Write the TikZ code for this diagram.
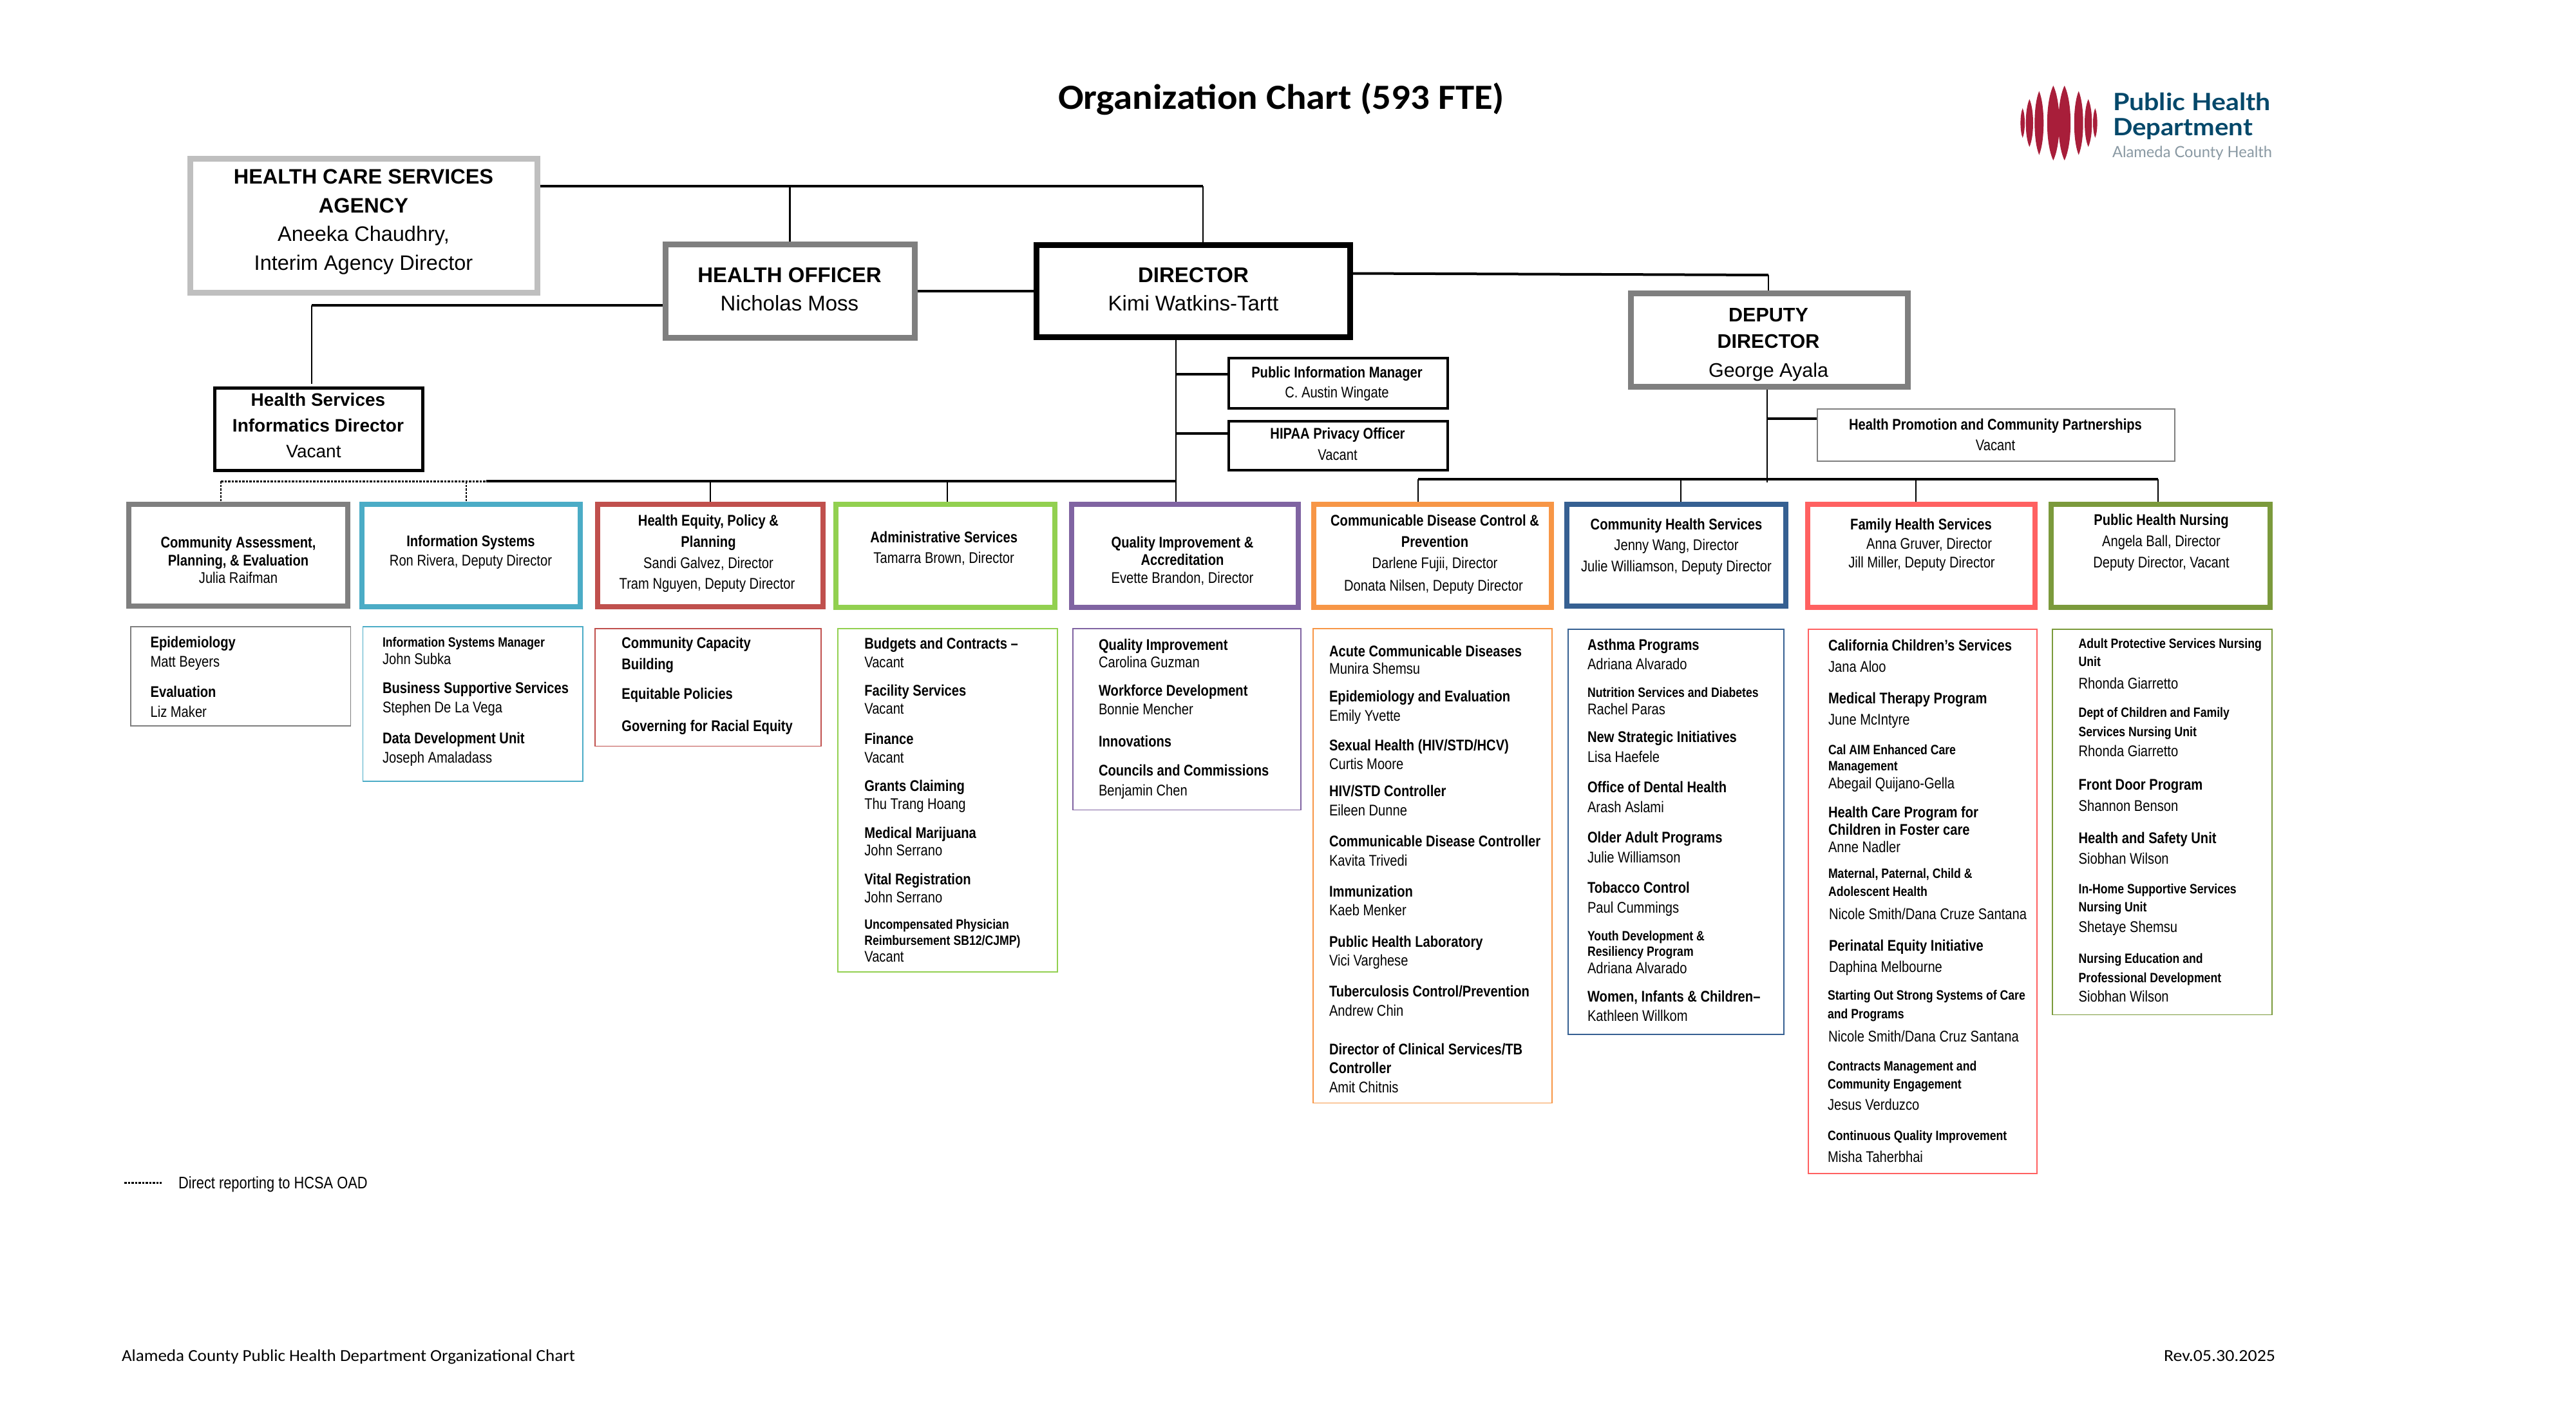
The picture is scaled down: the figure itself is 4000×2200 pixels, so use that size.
\documentclass[tikz,border=0pt]{standalone}
\usepackage{fontspec}
\usepackage{graphicx}
\setmainfont{Liberation Sans}
\newfontfamily\narfont[FakeStretch=.84]{Liberation Sans}
\newfontfamily\calfont{Carlito}
\newfontfamily\latofont{Lato}
\definecolor{cGrayA}{HTML}{BFBFBF}
\definecolor{cGray}{HTML}{7F7F7F}
\definecolor{cTeal}{HTML}{4BACC6}
\definecolor{cRed}{HTML}{C0504D}
\definecolor{cLime}{HTML}{92D050}
\definecolor{cPurple}{HTML}{8064A2}
\definecolor{cOrange}{HTML}{F79646}
\definecolor{cBlue}{HTML}{366092}
\definecolor{cCoral}{HTML}{FF6161}
\definecolor{cOlive}{HTML}{7B9A3C}
\definecolor{cLogoRed}{HTML}{A81E3A}
\definecolor{cLogoBlue}{HTML}{04486A}
\definecolor{cLogoGray}{HTML}{8A99A3}
\def\ox{0}\def\oy{0}
\newcommand\nb{\narfont\bfseries\fontsize{24}{24}\selectfont}
\newcommand\nr{\narfont\fontsize{24}{24}\selectfont}
\newcommand\ns{\narfont\bfseries\fontsize{21}{21}\selectfont}
\newcommand\rowAt[3]{\vtop to 0pt{\vskip\dimexpr#2pt-\oy pt\relax\hbox to\hsize{\kern\dimexpr#1pt-\ox pt\relax #3\hss}\vss}}
\newcommand\ctrF[4]{\rowAt{#1}{#2}{\smash{\makebox[0pt][c]{#3#4}}}}
\newcommand\ctrB[3]{\ctrF{#1}{#2}{\nb}{#3}}
\newcommand\ctrR[3]{\ctrF{#1}{#2}{\nr}{#3}}
\newcommand\lftF[4]{\rowAt{#1}{#2}{\smash{\makebox[0pt][l]{#3#4}}}}
\newcommand\lftB[3]{\lftF{#1}{#2}{\nb}{#3}}
\newcommand\lftR[3]{\lftF{#1}{#2}{\nr}{#3}}
\newcommand\lftS[3]{\lftF{#1}{#2}{\ns}{#3}}
\newcommand\OrgBox[7]{%
  \def\ox{#3}\def\oy{#4}%
  \node[#2] (#1) at ({(#3+#5)/2},{(#4+#6)/2})
    {\vbox to \dimexpr#6pt-#4pt\relax{\hsize=\dimexpr#5pt-#3pt\relax\offinterlineskip\parindent=0pt #7\vss}};}
\newcommand\Stripe[4]{%
  \fill[cLogoRed] (#1,#2-#4) .. controls (#1+1.33*#3,#2-0.55*#4) and (#1+1.33*#3,#2+0.55*#4) .. (#1,#2+#4)
     .. controls (#1-1.33*#3,#2+0.55*#4) and (#1-1.33*#3,#2-0.55*#4) .. cycle;}
\tikzset{
  x=1pt,y=-1pt,
  orgbox/.style={draw=#1,fill=white,inner sep=0pt,rectangle,anchor=center},
  topbox/.style={orgbox=#1,line width=9pt},
  deptbox/.style={orgbox=#1,line width=8pt},
  subbox/.style={orgbox=#1,line width=1.6pt},
  heavy/.style={draw=black,line width=4pt},
  light/.style={draw=black,line width=2.5pt},
  dotline/.style={draw=black,line width=3pt,dash pattern=on 3.5pt off 2pt},
  free/.style={inner sep=0pt,outer sep=0pt,anchor=base west},
}
\begin{document}
\begin{tikzpicture}
\useasboundingbox (0,0) rectangle (4000,2200);
\fill[white] (0,0) rectangle (4000,2200);
% title, footer, legend
\node[free] (title) at (1643,169) {\resizebox{693pt}{\height}{\calfont\bfseries\fontsize{55}{55}\selectfont Organization Chart (593 FTE)}};
\node[free] (footL) at (189,2113) {\resizebox{704pt}{\height}{\calfont\fontsize{26}{26}\selectfont Alameda County Public Health Department Organizational Chart}};
\node[free] (footR) at (3360,2113) {\resizebox{173pt}{\height}{\calfont\fontsize{26}{26}\selectfont Rev.05.30.2025}};
\node[free] (legend) at (277,1845) {\narfont\fontsize{26}{26}\selectfont Direct reporting to HCSA OAD};
\coordinate (legA) at (193,1836);
\coordinate (legB) at (251,1836);
\draw[dotline] (legA) -- (legB);
% logo
\foreach \d/\w/\h in {-8.7/9.5/58,8.7/9.5/58,-30.7/7/49.5,30.7/7/49.5,-45.7/5.7/37,45.7/5.7/37,-56.3/3.3/23,56.3/3.3/23}{\Stripe{3197+\d}{191}{\w}{\h}}
\node[free,text=cLogoBlue] (logoA) at (3281,171.7) {\resizebox{245pt}{\height}{\latofont\bfseries\fontsize{37}{37}\selectfont Public Health}};
\node[free,text=cLogoBlue] (logoB) at (3281,210) {\resizebox{217pt}{\height}{\latofont\bfseries\fontsize{37}{37}\selectfont Department}};
\node[free,text=cLogoGray] (logoC) at (3280,244) {\resizebox{248pt}{\height}{\latofont\fontsize{24}{24}\selectfont Alameda County Health}};
% leadership boxes
\OrgBox{hcsa}{topbox=cGrayA}{295}{246}{834}{454}{
  \ctrF{564.5}{285}{\bfseries\fontsize{32.5}{32.5}\selectfont}{HEALTH CARE SERVICES}
  \ctrF{564.5}{330}{\bfseries\fontsize{32.5}{32.5}\selectfont}{AGENCY}
  \ctrF{564.5}{374.5}{\fontsize{32.5}{32.5}\selectfont}{Aneeka Chaudhry,}
  \ctrF{564.5}{419}{\fontsize{32.5}{32.5}\selectfont}{Interim Agency Director}}
\OrgBox{ho}{topbox=cGray}{1033}{379}{1420}{524}{
  \ctrF{1226}{438}{\bfseries\fontsize{33}{33}\selectfont}{HEALTH OFFICER}
  \ctrF{1226}{482}{\fontsize{33}{33}\selectfont}{Nicholas Moss}}
\OrgBox{dir}{topbox=black}{1609}{380}{2096}{523}{
  \ctrF{1853}{438}{\bfseries\fontsize{33}{33}\selectfont}{DIRECTOR}
  \ctrF{1853}{482}{\fontsize{33}{33}\selectfont}{Kimi Watkins-Tartt}}
\OrgBox{dep}{topbox=cGray}{2532}{455}{2962}{600}{
  \ctrF{2746}{499.5}{\bfseries\fontsize{30.5}{30.5}\selectfont}{DEPUTY}
  \ctrF{2746}{540.6}{\bfseries\fontsize{30.5}{30.5}\selectfont}{DIRECTOR}
  \ctrF{2746}{585.7}{\fontsize{30.5}{30.5}\selectfont}{George Ayala}}
\OrgBox{hsi}{orgbox=black,line width=5pt}{333}{602}{656}{730}{
  \ctrF{494}{630}{\bfseries\fontsize{28}{28}\selectfont}{Health Services}
  \ctrF{494}{670.5}{\bfseries\fontsize{28}{28}\selectfont}{Informatics Director}
  \ctrF{487}{710.7}{\fontsize{28}{28}\selectfont}{Vacant}}
\OrgBox{pim}{orgbox=black,line width=4.5pt}{1908}{556}{2248}{634}{
  \ctrB{2076}{586.6}{Public Information Manager}
  \ctrR{2076}{617}{C. Austin Wingate}}
\OrgBox{hipaa}{orgbox=black,line width=4.5pt}{1908}{654}{2248}{730}{
  \ctrB{2077}{681.7}{HIPAA Privacy Officer}
  \ctrR{2077}{714}{Vacant}}
\OrgBox{hpcp}{subbox=cGray}{2822}{635}{3377}{716}{
  \ctrB{3098.5}{667}{Health Promotion and Community Partnerships}
  \ctrR{3098.5}{699.5}{Vacant}}
% department boxes
\OrgBox{comm}{deptbox=cGray}{200}{783}{540}{941}{
  \ctrB{370}{850.6}{Community Assessment,}
  \ctrB{370}{878}{Planning, \& Evaluation}
  \ctrR{370}{905.3}{Julia Raifman}}
\OrgBox{info}{deptbox=cTeal}{562}{783}{901}{942}{
  \ctrB{731}{848}{Information Systems}
  \ctrR{731}{878.5}{Ron Rivera, Deputy Director}}
\OrgBox{he}{deptbox=cRed}{928}{783}{1278}{942}{
  \ctrB{1100}{816}{Health Equity, Policy \&}
  \ctrB{1100}{849.6}{Planning}
  \ctrR{1100}{882}{Sandi Galvez, Director}
  \ctrR{1098}{914}{Tram Nguyen, Deputy Director}}
\OrgBox{adm}{deptbox=cLime}{1298}{783}{1638}{943}{
  \ctrB{1465.7}{842.7}{Administrative Services}
  \ctrR{1465.7}{874}{Tamarra Brown, Director}}
\OrgBox{qi}{deptbox=cPurple}{1664}{783}{2016}{943}{
  \ctrB{1836}{850}{Quality Improvement \&}
  \ctrB{1836}{877}{Accreditation}
  \ctrR{1836}{905}{Evette Brandon, Director}}
\OrgBox{cd}{deptbox=cOrange}{2040}{783}{2409}{943}{
  \ctrB{2228}{816}{Communicable Disease Control \&}
  \ctrB{2228}{849.4}{Prevention}
  \ctrR{2228}{882.5}{Darlene Fujii, Director}
  \ctrR{2226}{917}{Donata Nilsen, Deputy Director}}
\OrgBox{ch}{deptbox=cBlue}{2433}{783}{2773}{941}{
  \ctrB{2603}{822}{Community Health Services}
  \ctrR{2603}{854}{Jenny Wang, Director}
  \ctrR{2603}{887.5}{Julie Williamson, Deputy Director}}
\OrgBox{fh}{deptbox=cCoral}{2807}{783}{3160}{943}{
  \ctrB{2983}{822}{Family Health Services}
  \ctrR{2995.5}{852}{Anna Gruver, Director}
  \ctrR{2984}{881}{Jill Miller, Deputy Director}}
\OrgBox{ph}{deptbox=cOlive}{3185}{783}{3525}{943}{
  \ctrB{3356}{815}{Public Health Nursing}
  \ctrR{3356}{848}{Angela Ball, Director}
  \ctrR{3356}{881}{Deputy Director, Vacant}}
% unit lists
\OrgBox{commL}{subbox=cGray}{203}{973}{544.5}{1127}{
  \lftB{233.6}{1005}{Epidemiology}
  \lftR{233.6}{1035}{Matt Beyers}
  \lftB{233.6}{1082.4}{Evaluation}
  \lftR{233.6}{1113}{Liz Maker}}
\OrgBox{infoL}{subbox=cTeal}{563.6}{973}{905}{1213}{
  \lftS{594}{1004}{Information Systems Manager}
  \lftR{594}{1031}{John Subka}
  \lftB{594}{1076.5}{Business Supportive Services}
  \lftR{594}{1106.8}{Stephen De La Vega}
  \lftB{594}{1154}{Data Development Unit}
  \lftR{594}{1184}{Joseph Amaladass}}
\OrgBox{heL}{subbox=cRed}{924}{976}{1275}{1158.5}{
  \lftB{965.4}{1006}{Community Capacity}
  \lftB{965.4}{1039.6}{Building}
  \lftB{965.4}{1085}{Equitable Policies}
  \lftB{965.4}{1135.6}{Governing for Racial Equity}}
\OrgBox{admL}{subbox=cLime}{1301}{976}{1642}{1509}{
  \lftB{1342.3}{1007.8}{Budgets and Contracts –}
  \lftR{1342.3}{1036}{Vacant}
  \lftB{1342.3}{1080.4}{Facility Services}
  \lftR{1342.3}{1108.8}{Vacant}
  \lftB{1342.3}{1155.5}{Finance}
  \lftR{1342.3}{1184}{Vacant}
  \lftB{1342.3}{1228}{Grants Claiming}
  \lftR{1342.3}{1256.5}{Thu Trang Hoang}
  \lftB{1342.3}{1301}{Medical Marijuana}
  \lftR{1342.3}{1328.6}{John Serrano}
  \lftB{1342.3}{1373}{Vital Registration}
  \lftR{1342.3}{1401}{John Serrano}
  \lftS{1342.3}{1442.5}{Uncompensated Physician}
  \lftS{1342.3}{1467}{Reimbursement SB12/CJMP)}
  \lftR{1342.3}{1493.8}{Vacant}}
\OrgBox{qiL}{subbox=cPurple}{1666}{976}{2020}{1257.5}{
  \lftB{1706}{1009}{Quality Improvement}
  \lftR{1706}{1036}{Carolina Guzman}
  \lftB{1706}{1080}{Workforce Development}
  \lftR{1706}{1109}{Bonnie Mencher}
  \lftB{1706}{1159}{Innovations}
  \lftB{1706}{1204}{Councils and Commissions}
  \lftR{1706}{1235}{Benjamin Chen}}
\OrgBox{cdL}{subbox=cOrange}{2039}{976}{2410}{1712.5}{
  \lftB{2064}{1019}{Acute Communicable Diseases}
  \lftR{2064}{1046}{Munira Shemsu}
  \lftB{2064}{1089}{Epidemiology and Evaluation}
  \lftR{2064}{1119}{Emily Yvette}
  \lftB{2064}{1165.6}{Sexual Health (HIV/STD/HCV)}
  \lftR{2064}{1194}{Curtis Moore}
  \lftB{2064}{1236}{HIV/STD Controller}
  \lftR{2064}{1266}{Eileen Dunne}
  \lftB{2064}{1314}{Communicable Disease Controller}
  \lftR{2064}{1344}{Kavita Trivedi}
  \lftB{2064}{1392}{Immunization}
  \lftR{2064}{1421}{Kaeb Menker}
  \lftB{2064}{1470}{Public Health Laboratory}
  \lftR{2064}{1499}{Vici Varghese}
  \lftB{2064}{1547}{Tuberculosis Control/Prevention}
  \lftR{2064}{1577.5}{Andrew Chin}
  \lftB{2064}{1637}{Director of Clinical Services/TB}
  \lftB{2064}{1666}{Controller}
  \lftR{2064}{1696}{Amit Chitnis}}
\OrgBox{chL}{subbox=cBlue}{2435}{977}{2770}{1606}{
  \lftB{2465}{1009}{Asthma Programs}
  \lftR{2465}{1039}{Adriana Alvarado}
  \lftS{2465}{1082.5}{Nutrition Services and Diabetes}
  \lftR{2465}{1109}{Rachel Paras}
  \lftB{2465}{1152}{New Strategic Initiatives}
  \lftR{2465}{1183}{Lisa Haefele}
  \lftB{2465}{1230}{Office of Dental Health}
  \lftR{2465}{1261}{Arash Aslami}
  \lftB{2465}{1308}{Older Adult Programs}
  \lftR{2465}{1339}{Julie Williamson}
  \lftB{2465}{1386}{Tobacco Control}
  \lftR{2465}{1417}{Paul Cummings}
  \lftS{2465}{1460.6}{Youth Development \&}
  \lftS{2465}{1484}{Resiliency Program}
  \lftR{2465}{1511}{Adriana Alvarado}
  \lftB{2465}{1555}{Women, Infants \& Children–}
  \lftR{2465}{1585}{Kathleen Willkom}}
\OrgBox{fhL}{subbox=cCoral}{2808}{977}{3163}{1822}{
  \lftB{2839}{1010}{California Children’s Services}
  \lftR{2839}{1043}{Jana Aloo}
  \lftB{2839}{1092}{Medical Therapy Program}
  \lftR{2839}{1125}{June McIntyre}
  \lftS{2839}{1171.4}{Cal AIM Enhanced Care}
  \lftS{2839}{1196.7}{Management}
  \lftR{2839}{1224}{Abegail Quijano-Gella}
  \lftB{2839}{1269}{Health Care Program for}
  \lftB{2839}{1296}{Children in Foster care}
  \lftR{2839}{1323.7}{Anne Nadler}
  \lftS{2839}{1363}{Maternal, Paternal, Child \&}
  \lftS{2839}{1391.7}{Adolescent Health}
  \lftR{2840}{1427}{Nicole Smith/Dana Cruze Santana}
  \lftB{2840}{1476}{Perinatal Equity Initiative}
  \lftR{2840}{1509}{Daphina Melbourne}
  \lftS{2838}{1552}{Starting Out Strong Systems of Care}
  \lftS{2838}{1581}{and Programs}
  \lftR{2839}{1617}{Nicole Smith/Dana Cruz Santana}
  \lftS{2838}{1662}{Contracts Management and}
  \lftS{2838}{1690.6}{Community Engagement}
  \lftR{2838}{1723}{Jesus Verduzco}
  \lftS{2838}{1770}{Continuous Quality Improvement}
  \lftR{2838}{1804}{Misha Taherbhai}}
\OrgBox{phL}{subbox=cOlive}{3187}{977}{3528}{1575.5}{
  \lftS{3227.6}{1006}{Adult Protective Services Nursing}
  \lftS{3227.6}{1034}{Unit}
  \lftR{3227.6}{1069}{Rhonda Giarretto}
  \lftS{3227.6}{1113}{Dept of Children and Family}
  \lftS{3227.6}{1143}{Services Nursing Unit}
  \lftR{3227.6}{1174}{Rhonda Giarretto}
  \lftB{3227.6}{1226}{Front Door Program}
  \lftR{3227.6}{1259}{Shannon Benson}
  \lftB{3227.6}{1309}{Health and Safety Unit}
  \lftR{3227.6}{1341}{Siobhan Wilson}
  \lftS{3227.6}{1387}{In-Home Supportive Services}
  \lftS{3227.6}{1415}{Nursing Unit}
  \lftR{3227.6}{1447}{Shetaye Shemsu}
  \lftS{3227.6}{1495}{Nursing Education and}
  \lftS{3227.6}{1525}{Professional Development}
  \lftR{3227.6}{1555}{Siobhan Wilson}}
% connector points
\coordinate (topBus) at (1868,289);
\coordinate (hsiElbow) at (484,474);
\coordinate (hsiEnd) at (484,595.5);
\coordinate (dirOut) at (2101,424.5);
\coordinate (depElbow) at (2746,427);
\coordinate (trunk) at (1826,747);
\coordinate (pimStub) at (1826,581);
\coordinate (hipStub) at (1826,673);
\coordinate (depBus) at (2744,744);
\coordinate (depEnd) at (2744,749);
\coordinate (hpStub) at (2744,649.5);
\coordinate (rbA) at (2202,744);
\coordinate (rbB) at (2610,744);
\coordinate (rbC) at (2975,744);
\coordinate (rbD) at (3351,744);
\coordinate (lbDotA) at (343,747);
\coordinate (lbDotB) at (724,747);
\coordinate (lbDotC) at (755,747);
\coordinate (lbA) at (1103,747);
\coordinate (lbB) at (1471,747);
% connectors
\draw[heavy] (hcsa.east |- topBus) -- (topBus);
\draw[light] (topBus) -- (dir.north -| topBus);
\draw[light] (ho.north |- topBus) -- (ho.north);
\draw[heavy] (ho.east) -- (dir.west);
\draw[heavy] (ho.west |- hsiElbow) -- (hsiElbow);
\draw[light] (hsiElbow) -- (hsiEnd);
\draw[heavy] (dir.east |- dirOut) -- (depElbow);
\draw[light] (depElbow) -- (dep.north -| depElbow);
\draw[light] (dir.south -| trunk) -- (qi.north -| trunk);
\draw[heavy] (pimStub) -- (pim.west |- pimStub);
\draw[heavy] (hipStub) -- (hipaa.west |- hipStub);
\draw[light] (dep.south -| depEnd) -- (depEnd);
\draw[heavy] (hpStub) -- (hpcp.west |- hpStub);
\draw[heavy] (rbA) -- (rbD);
\draw[light] (rbA) -- (cd.north -| rbA);
\draw[light] (rbB) -- (ch.north -| rbB);
\draw[light] (rbC) -- (fh.north -| rbC);
\draw[light] (rbD) -- (ph.north -| rbD);
\draw[heavy] (lbDotC) -- (trunk);
\draw[light] (lbA) -- (he.north -| lbA);
\draw[light] (lbB) -- (adm.north -| lbB);
\draw[dotline] (lbDotA) -- (lbDotC);
\draw[dotline,line width=2.5pt] (lbDotA) -- (comm.north -| lbDotA);
\draw[dotline,line width=2.5pt] (lbDotB) -- (info.north -| lbDotB);
\end{tikzpicture}
\end{document}
